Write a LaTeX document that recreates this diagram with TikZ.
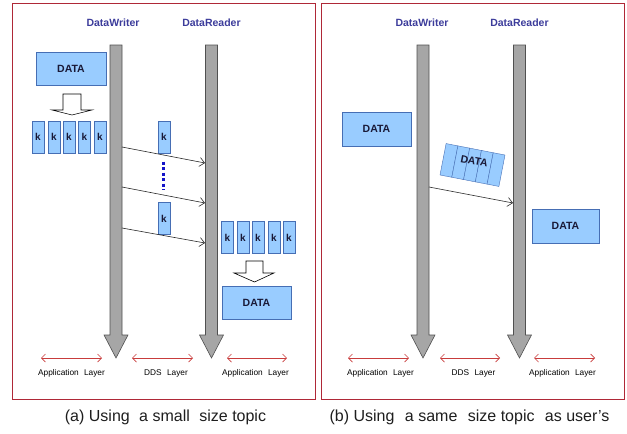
\documentclass[tikz,border=0pt]{standalone}
\usepackage{fontspec}
\setmainfont{Liberation Sans}
\usetikzlibrary{arrows.meta}
\definecolor{framered}{RGB}{175,40,55}
\definecolor{boxfill}{RGB}{153,204,255}
\definecolor{boxline}{RGB}{70,110,180}
\definecolor{titleblue}{RGB}{60,60,155}
\definecolor{barfill}{RGB}{166,166,166}
\definecolor{barline}{RGB}{80,80,80}
\definecolor{layerred}{RGB}{200,60,60}
\definecolor{dotblue}{RGB}{20,20,200}
\definecolor{datatext}{RGB}{25,25,55}
\tikzset{
  panel/.style={draw=framered, line width=1pt},
  title/.style={font=\fontsize{10.5}{12}\selectfont\bfseries, text=titleblue},
  databox/.style={draw=boxline, fill=boxfill, minimum width=70pt, minimum height=33pt, inner sep=0pt, font=\fontsize{10.5}{12}\selectfont\bfseries, text=datatext},
  kbox/.style={draw=boxline, fill=boxfill, minimum width=12pt, minimum height=32pt, inner sep=0pt, font=\fontsize{10}{12}\selectfont\bfseries, text=datatext},
  msg/.style={draw={rgb,255:red,40;green,40;blue,40}, line width=0.6pt, -{Straight Barb[length=5pt,width=9pt]}},
  layer/.style={draw=layerred, line width=0.7pt, {Straight Barb[length=4pt,width=8pt]}-{Straight Barb[length=4pt,width=8pt]}},
  layertext/.style={font=\fontsize{8.3}{10}\selectfont, inner sep=0pt},
  captiontext/.style={font=\fontsize{16}{19}\selectfont, text={rgb,255:red,30;green,30;blue,30}, inner sep=0pt},
  barstyle/.style={fill=barfill, draw=barline, line width=0.6pt},
  hollow/.style={fill=white, draw=black, line width=0.6pt},
  lifeline/.pic={\path[barstyle] (-6,0) -- (6,0) -- (6,290) -- (12,290) -- (0,313) -- (-12,290) -- (-6,290) -- cycle;}
}
\begin{document}
\begin{tikzpicture}[x=1pt,y=-1pt]
\useasboundingbox (0,0) rectangle (627,434);
% panels
\draw[panel] (12,3) rectangle (315,399);
\draw[panel] (321,3) rectangle (624,399);

% ---------- panel (a) ----------
\node[title] (wa) at (113,23) {DataWriter};
\node[title] (ra) at (211.5,23) {DataReader};
\pic at (116,45) {lifeline};
\pic at (211.5,45) {lifeline};

\node[databox] (da1) at (71,68.5) {DATA};
\path[hollow] (63,94) -- (81,94) -- (81,110) -- (92,110) -- (72,115) -- (52,110) -- (63,110) -- cycle;
\node[kbox] (ka1) at (38,137) {k};
\node[kbox] (ka2) at (54,137) {k};
\node[kbox] (ka3) at (69,137) {k};
\node[kbox] (ka4) at (84.5,137) {k};
\node[kbox] (ka5) at (100,137) {k};

\node[kbox] (km1) at (164,137) {k};
\node[kbox] (km2) at (164,218.5) {k};
\draw[dotblue, line width=3pt, dash pattern=on 3pt off 2.5pt] (163,161.5) -- (163,190);

\coordinate (wa1) at (122,147); \coordinate (ra1) at (205,163);
\coordinate (wa2) at (122,187); \coordinate (ra2) at (205,203);
\coordinate (wa3) at (122,228); \coordinate (ra3) at (205,243);
\draw[msg] (wa1) -- (ra1);
\draw[msg] (wa2) -- (ra2);
\draw[msg] (wa3) -- (ra3);

\node[kbox] (kb1) at (227.5,237.5) {k};
\node[kbox] (kb2) at (243,237.5) {k};
\node[kbox] (kb3) at (258,237.5) {k};
\node[kbox] (kb4) at (274,237.5) {k};
\node[kbox] (kb5) at (289,237.5) {k};
\path[hollow] (246,261) -- (263,261) -- (263,273) -- (274,273) -- (254.5,282) -- (234,273) -- (246,273) -- cycle;
\node[databox, minimum width=69pt] (da2) at (256.5,302.5) {DATA};

\coordinate (la1) at (41,358); \coordinate (la2) at (102,358);
\coordinate (la3) at (132,358); \coordinate (la4) at (193,358);
\coordinate (la5) at (227,358); \coordinate (la6) at (287,358);
\draw[layer] (la1) -- (la2);
\draw[layer] (la3) -- (la4);
\draw[layer] (la5) -- (la6);
\node[layertext] (ta1) at (71.5,373) {Application\hspace{3pt} Layer};
\node[layertext] (ta2) at (166,373) {DDS\hspace{3pt} Layer};
\node[layertext] (ta3) at (255.5,373) {Application\hspace{3pt} Layer};

\node[captiontext] (capa) at (165.5,417) {(a) Using\hspace{5pt} a small\hspace{5pt} size topic};

% ---------- panel (b) ----------
\node[title] (wb) at (422,23) {DataWriter};
\node[title] (rb) at (519.5,23) {DataReader};
\pic at (423,45) {lifeline};
\pic at (519.5,45) {lifeline};

\node[databox, minimum width=69pt, minimum height=34pt] (db1) at (376.5,129) {DATA};

\begin{scope}[shift={(472.5,165)}, rotate=-11, transform shape]
  \node[kbox] (kr1) at (-24,0) {};
  \node[kbox] (kr2) at (-12,0) {};
  \node[kbox] (kr3) at (0,0) {};
  \node[kbox] (kr4) at (12,0) {};
  \node[kbox] (kr5) at (24,0) {};
  \node[font=\fontsize{10.5}{12}\selectfont\bfseries, text=datatext, inner sep=0pt] (dtr) at (1,-4) {DATA};
\end{scope}

\coordinate (wb1) at (429,187); \coordinate (rb1) at (513,203);
\draw[msg] (wb1) -- (rb1);

\node[databox, minimum width=67pt, minimum height=34pt] (db2) at (565.5,226) {DATA};

\coordinate (lb1) at (348,358); \coordinate (lb2) at (409,358);
\coordinate (lb3) at (440,358); \coordinate (lb4) at (500,358);
\coordinate (lb5) at (534,358); \coordinate (lb6) at (595,358);
\draw[layer] (lb1) -- (lb2);
\draw[layer] (lb3) -- (lb4);
\draw[layer] (lb5) -- (lb6);
\node[layertext] (tb1) at (380.5,373) {Application\hspace{3pt} Layer};
\node[layertext] (tb2) at (473.5,373) {DDS\hspace{3pt} Layer};
\node[layertext] (tb3) at (562.5,373) {Application\hspace{3pt} Layer};

\node[captiontext] (capb) at (469.5,417) {(b) Using\hspace{6pt} a same\hspace{6pt} size topic\hspace{6pt} as user's};
\end{tikzpicture}
\end{document}
